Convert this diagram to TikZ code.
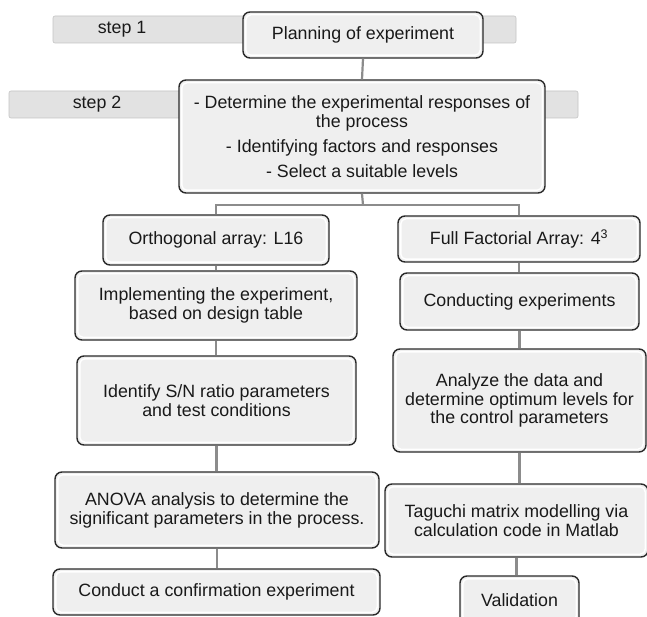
\documentclass[tikz,border=0pt]{standalone}
\usepackage{fontspec}
\setmainfont{Liberation Sans}
\definecolor{boxfill}{HTML}{EFEFEF}
\definecolor{boxline}{HTML}{2A2A2A}
\definecolor{barfill}{HTML}{E2E2E2}
\definecolor{barline}{HTML}{C4C4C4}
\definecolor{conn}{HTML}{8C8C8C}
\begin{document}
\begin{tikzpicture}[x=1pt,y=1pt,
  every node/.style={font=\fontsize{17.8}{18.8}\selectfont, text=black!90, inner sep=0pt},
  flowbox/.style={draw=boxline, line width=1.4pt, fill=boxfill, rounded corners=7pt, align=center,
    path picture={\draw[white, line width=1.4pt, rounded corners=5pt]
      ([shift={(2.8pt,2.8pt)}]path picture bounding box.south west) rectangle
      ([shift={(-2.8pt,-2.8pt)}]path picture bounding box.north east);}},
  stepbar/.style={draw=barline, line width=0.6pt, fill=barfill, rounded corners=2pt},
  link/.style={draw=conn, line width=2.2pt}
]
\useasboundingbox (0,0) rectangle (647,-617);
\fill[white] (0,0) rectangle (647,-617);

% step bars
\node[stepbar, minimum width=463, minimum height=27] (bar1) at (284.5,-29.5) {};
\node[anchor=center] (s1) at (122,-29) {step 1};
\node[stepbar, minimum width=569, minimum height=27] (bar2) at (293.5,-104.5) {};
\node[anchor=center] (s2) at (97,-104) {step 2};

% boxes
\node[flowbox, minimum width=240, minimum height=46] (plan) at (363,-35) {Planning of experiment};
\node[flowbox, minimum width=366, minimum height=113] (det) at (362,-136.5)
  {- Determine the experimental responses of\\ the process\\[6pt]
   - Identifying factors and responses\\[6pt]
   - Select a suitable levels};

\node[flowbox, minimum width=226, minimum height=50] (orth) at (216,-240) {Orthogonal array: L16};
\node[flowbox, minimum width=242, minimum height=46] (full) at (519,-239) {Full Factorial Array: 4\textsuperscript{3}};

\node[flowbox, minimum width=282, minimum height=69] (impl) at (216,-305.5)
  {Implementing the experiment,\\ based on design table};
\node[flowbox, minimum width=239, minimum height=57] (cond) at (519.5,-301.5) {Conducting experiments};

\node[flowbox, minimum width=279, minimum height=89] (ident) at (216.5,-400.5)
  {Identify S/N ratio parameters\\ and test conditions};
\node[flowbox, minimum width=253, minimum height=103] (anal) at (519.5,-400.5)
  {Analyze the data and\\ determine optimum levels for\\ the control parameters};

\node[flowbox, minimum width=324, minimum height=76] (anova) at (217,-510)
  {ANOVA analysis to determine the\\ significant parameters in the process.};
\node[flowbox, minimum width=263, minimum height=73] (tag) at (516.5,-520.5)
  {Taguchi matrix modelling via\\ calculation code in Matlab};

\node[flowbox, minimum width=327, minimum height=46] (conf) at (216.5,-592)
  {Conduct a confirmation experiment};
\node[flowbox, minimum width=119, minimum height=48] (valid) at (519.5,-600) {Validation};

% connectors
\coordinate (split) at (363,-205);
\path[link] (plan.south) -- (det.north);
\path[link] (det.south) -- (split);
\path[link] (split) -| (orth.north);
\path[link] (split) -| (full.north);
\path[link] (orth.south) -- (orth.south |- impl.north);
\path[link] (impl.south) -- (impl.south |- ident.north);
\path[link] (ident.south) -- (ident.south |- anova.north);
\path[link] (anova.south) -- (anova.south |- conf.north);
\path[link] (full.south) -- (full.south |- cond.north);
\path[link] (cond.south) -- (cond.south |- anal.north);
\path[link] (anal.south) -- (anal.south |- tag.north);
\path[link] (tag.south) -- (tag.south |- valid.north);
\end{tikzpicture}
\end{document}
